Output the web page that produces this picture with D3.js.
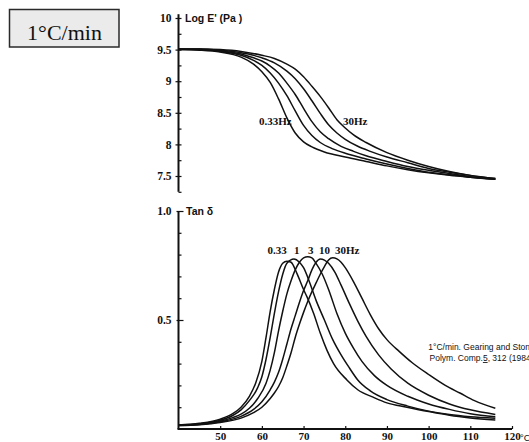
<!DOCTYPE html>
<html>
<head>
<meta charset="utf-8">
<script src="https://cdn.jsdelivr.net/npm/d3@7"></script>
<style>
  body { margin: 0; background: #fff; }
  svg { display: block; }
</style>
</head>
<body>
<svg id="chart" width="529" height="442"></svg>
<script>
// Frequencies of the DMA sweep
const frequencies = ["0.33", "1", "3", "10", "30Hz"];

// Storage modulus, log E' (Pa), as [temperature °C, value]
const logE_033 = [[40,9.50],[45,9.49],[50,9.46],[55,9.38],[58,9.27],[60,9.15],[62,8.98],[64,8.72],[66,8.42],[68,8.18],[70,8.04],[72,7.96],[75,7.88],[80,7.80],[85,7.73],[90,7.66],[95,7.60],[100,7.55],[105,7.51],[110,7.48],[116,7.45]];
const logE_1   = [[40,9.50],[45,9.50],[50,9.47],[55,9.41],[58,9.33],[60,9.25],[62,9.13],[64,8.97],[66,8.77],[68,8.53],[70,8.30],[72,8.14],[74,8.03],[77,7.93],[80,7.86],[85,7.77],[90,7.69],[95,7.62],[100,7.56],[105,7.52],[110,7.48],[116,7.45]];
const logE_3   = [[40,9.51],[45,9.50],[50,9.48],[55,9.43],[58,9.37],[60,9.32],[62,9.24],[64,9.13],[66,8.97],[68,8.79],[70,8.57],[72,8.36],[74,8.20],[76,8.09],[79,7.97],[82,7.89],[85,7.82],[90,7.73],[95,7.65],[100,7.59],[105,7.54],[110,7.49],[116,7.45]];
const logE_10  = [[40,9.51],[45,9.51],[50,9.49],[55,9.45],[58,9.41],[60,9.37],[63,9.29],[66,9.16],[68,9.04],[70,8.88],[72,8.69],[74,8.49],[76,8.31],[78,8.18],[80,8.08],[83,7.97],[86,7.89],[90,7.80],[95,7.71],[100,7.62],[105,7.56],[110,7.51],[116,7.46]];
const logE_30  = [[40,9.51],[45,9.51],[50,9.50],[55,9.47],[60,9.41],[63,9.36],[66,9.27],[68,9.19],[70,9.07],[72,8.92],[74,8.76],[76,8.58],[78,8.39],[80,8.26],[82,8.15],[85,8.03],[90,7.87],[95,7.75],[100,7.65],[105,7.57],[110,7.51],[116,7.46]];

// Loss tangent, tan δ, as [temperature °C, value]
const tan_033 = [[40,0.018],[45,0.026],[50,0.045],[53,0.07],[55,0.10],[57,0.15],[58.5,0.21],[60,0.31],[61,0.42],[62,0.54],[63,0.64],[64,0.72],[65,0.76],[66,0.77],[67,0.765],[68.4,0.714],[70,0.64],[70.8,0.607],[72.4,0.531],[74,0.44],[75.6,0.362],[77.2,0.30],[80.4,0.225],[83,0.18],[86.8,0.145],[90,0.12],[94.8,0.10],[100,0.08],[105,0.063],[110,0.051],[116,0.041]];
const tan_1   = [[40,0.018],[45,0.024],[50,0.040],[53,0.062],[55,0.088],[57,0.13],[59,0.19],[60,0.24],[61,0.32],[62,0.42],[63,0.53],[64,0.63],[65,0.71],[66,0.76],[67.7,0.78],[69,0.765],[70,0.74],[71.5,0.67],[73,0.59],[75,0.50],[77,0.41],[79,0.34],[81,0.28],[83,0.225],[86,0.175],[90,0.135],[95,0.105],[100,0.082],[105,0.066],[110,0.056],[116,0.049]];
const tan_3   = [[40,0.017],[45,0.022],[50,0.036],[53,0.052],[55,0.068],[57,0.095],[59,0.14],[61,0.21],[62,0.27],[63,0.35],[64,0.45],[65,0.54],[66,0.62],[67,0.68],[68,0.73],[69,0.765],[70,0.785],[71,0.79],[72,0.785],[73,0.76],[74.5,0.71],[76,0.64],[78,0.53],[80,0.44],[82,0.37],[84,0.31],[87,0.245],[90,0.20],[95,0.15],[100,0.115],[105,0.09],[110,0.07],[116,0.056]];
const tan_10  = [[40,0.016],[45,0.021],[50,0.033],[55,0.058],[58,0.09],[60,0.125],[62,0.18],[63,0.215],[64,0.26],[65,0.32],[66,0.39],[67,0.46],[68,0.52],[69,0.58],[70,0.635],[71,0.68],[72,0.73],[73,0.765],[74,0.78],[75,0.775],[76,0.76],[77.5,0.72],[79,0.66],[81,0.575],[83,0.495],[85,0.425],[88,0.34],[91,0.275],[95,0.21],[100,0.155],[105,0.115],[110,0.088],[116,0.067]];
const tan_30  = [[40,0.016],[45,0.02],[50,0.03],[55,0.05],[58,0.075],[60,0.10],[62,0.14],[63,0.165],[64,0.195],[65,0.235],[66,0.29],[67,0.35],[68,0.42],[69,0.48],[70,0.535],[71,0.585],[72,0.63],[73,0.67],[74,0.71],[75,0.745],[76,0.775],[77,0.785],[78,0.78],[79,0.765],[80,0.74],[82,0.675],[84,0.60],[86,0.525],[88,0.46],[90,0.41],[93,0.355],[96,0.305],[100,0.25],[104,0.20],[107.5,0.165],[111,0.13],[116,0.095]];

// Axis ticks
const xTicks = [50, 60, 70, 80, 90, 100, 110, 120];
const yTopTicks = [7.5, 8, 8.5, 9, 9.5, 10];
const yTopMinor = [7.25, 7.75, 8.25, 8.75, 9.25, 9.75];
const yBotTicks = [0.5, 1.0];
const yBotMinor = [0.1, 0.2, 0.3, 0.4, 0.6, 0.7, 0.8, 0.9];

const svg = d3.select("#chart");
const ink = "#111";
const serif = "'Liberation Serif', 'Times New Roman', serif";
const sans = "'Liberation Sans', Arial, sans-serif";

// Heating-rate badge
svg.append("rect").attr("x", 9.5).attr("y", 9.5).attr("width", 109.5).attr("height", 37.5)
  .attr("fill", "#ebebeb").attr("stroke", "#2a2a2a").attr("stroke-width", 1.5);
svg.append("text").attr("x", 64.5).attr("y", 39.5).attr("text-anchor", "middle")
  .attr("font-family", serif).attr("font-size", 22).attr("fill", ink).text("1°C/min");

// Scales
const x = d3.scaleLinear().domain([40, 120]).range([178.5, 512]);
const yTop = d3.scaleLinear().domain([7.5, 10]).range([176, 18]);
const yBot = d3.scaleLinear().domain([0, 1]).range([429, 211]);
const axisX = 178.5;

function styleAxis(g) {
  g.select(".domain").remove();
  g.selectAll("line").attr("stroke", ink).attr("stroke-width", 1.2);
  g.selectAll("text").attr("font-family", serif).attr("font-weight", "bold")
    .attr("font-size", 11.5).attr("fill", ink);
}

// ---- upper panel: log E'
svg.append("line").attr("x1", axisX).attr("x2", axisX)
  .attr("y1", yTop(10.06)).attr("y2", yTop(7.25))
  .attr("stroke", ink).attr("stroke-width", 2);
const gTop = svg.append("g").attr("transform", `translate(${axisX},0)`)
  .call(d3.axisLeft(yTop).tickValues(yTopTicks).tickSize(3).tickPadding(4)
    .tickFormat(d => d3.format("")(d)));
styleAxis(gTop);
gTop.selectAll(".tick line").attr("x1", 3);
const gTopMinor = svg.append("g").attr("transform", `translate(${axisX},0)`)
  .call(d3.axisLeft(yTop).tickValues(yTopMinor).tickSize(-3).tickFormat(""));
styleAxis(gTopMinor);

svg.append("text").attr("x", 185).attr("y", 22)
  .attr("font-family", sans).attr("font-weight", "bold").attr("font-size", 10.5)
  .attr("fill", ink).text("Log E' (Pa )");

const line = (ys) => d3.line().x(d => x(d[0])).y(d => ys(d[1])).curve(d3.curveMonotoneX);
const topSeries = [logE_033, logE_1, logE_3, logE_10, logE_30];
svg.append("g").selectAll("path").data(topSeries).join("path")
  .attr("d", line(yTop)).attr("fill", "none").attr("stroke", ink).attr("stroke-width", 1.5);

svg.append("text").attr("x", 259).attr("y", 125)
  .attr("font-family", serif).attr("font-weight", "bold").attr("font-size", 11)
  .attr("fill", ink).text("0.33Hz");
svg.append("text").attr("x", 343).attr("y", 125)
  .attr("font-family", serif).attr("font-weight", "bold").attr("font-size", 11)
  .attr("fill", ink).text("30Hz");

// ---- lower panel: tan δ
svg.append("line").attr("x1", axisX).attr("x2", axisX)
  .attr("y1", yBot(1)).attr("y2", yBot(0))
  .attr("stroke", ink).attr("stroke-width", 2);
const gBot = svg.append("g").attr("transform", `translate(${axisX},0)`)
  .call(d3.axisLeft(yBot).tickValues(yBotTicks).tickSize(2).tickPadding(5)
    .tickFormat(d3.format(".1f")));
styleAxis(gBot);
gBot.selectAll(".tick line").attr("x1", 5);
const gBotMinor = svg.append("g").attr("transform", `translate(${axisX},0)`)
  .call(d3.axisLeft(yBot).tickValues(yBotMinor).tickSize(-3).tickFormat(""));
styleAxis(gBotMinor);

svg.append("text").attr("x", 186).attr("y", 215)
  .attr("font-family", sans).attr("font-weight", "bold").attr("font-size", 10.5)
  .attr("fill", ink).text("Tan δ");

const botSeries = [tan_033, tan_1, tan_3, tan_10, tan_30];
svg.append("g").selectAll("path").data(botSeries).join("path")
  .attr("d", line(yBot)).attr("fill", "none").attr("stroke", ink).attr("stroke-width", 1.5);

// frequency labels over the peaks
const peakLabelX = [267.5, 294, 308, 319, 335];
svg.append("g").selectAll("text").data(frequencies).join("text")
  .attr("x", (d, i) => peakLabelX[i]).attr("y", 254)
  .attr("font-family", serif).attr("font-weight", "bold").attr("font-size", 11)
  .attr("fill", ink).text(d => d);

// x axis
svg.append("line").attr("x1", axisX - 1).attr("x2", x(120))
  .attr("y1", yBot(0)).attr("y2", yBot(0)).attr("stroke", ink).attr("stroke-width", 2);
const gX = svg.append("g").attr("transform", `translate(0,${yBot(0)})`)
  .call(d3.axisBottom(x).tickValues(xTicks).tickSize(-3).tickPadding(3.5)
    .tickFormat(d3.format("d")));
styleAxis(gX);
gX.selectAll("text").attr("font-size", 11);
svg.append("text").attr("x", x(120) + 8).attr("y", 440.5)
  .attr("font-family", sans).attr("font-size", 9.5).attr("fill", ink).text("°C");

// source note
const note = svg.append("text").attr("font-family", sans).attr("font-size", 8.5).attr("fill", ink)
  .attr("text-anchor", "middle");
note.append("tspan").attr("x", 481.5).attr("y", 350).text("1°C/min. Gearing and Stone");
const l2 = note.append("tspan").attr("x", 481.5).attr("y", 361);
l2.append("tspan").text("Polym. Comp.");
l2.append("tspan").attr("text-decoration", "underline").text("5");
l2.append("tspan").text(", 312 (1984)");
</script>
</body>
</html>
